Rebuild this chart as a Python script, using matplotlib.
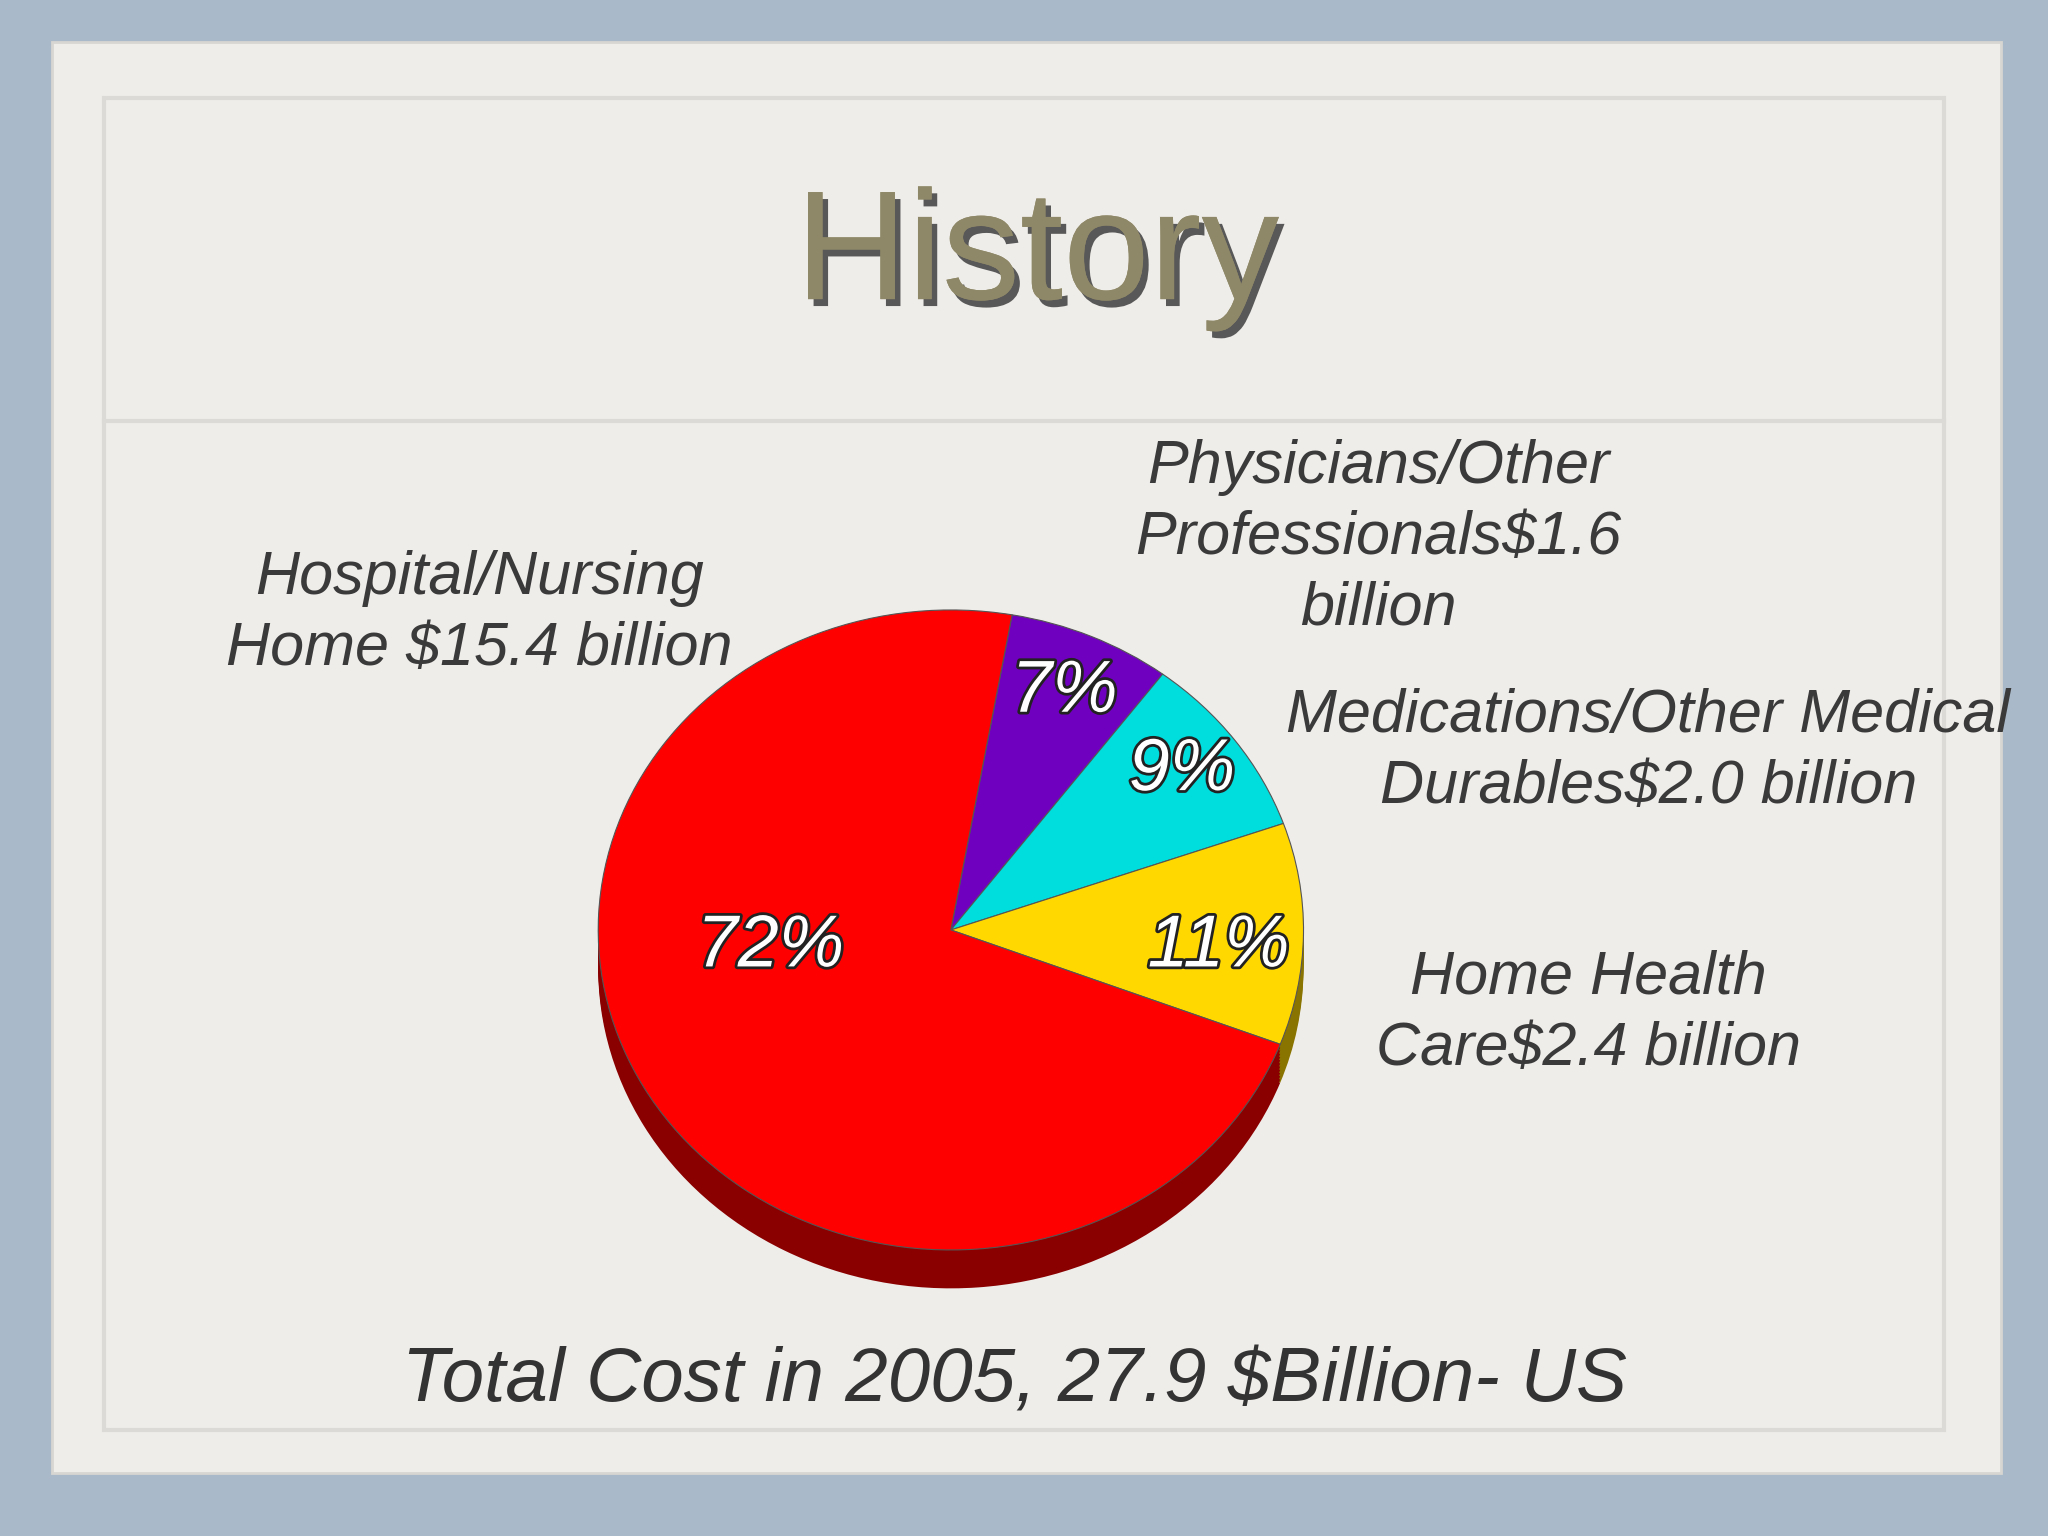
import matplotlib
matplotlib.use("Agg")
import matplotlib.pyplot as plt
import matplotlib.patheffects as pe
from matplotlib.patches import Rectangle

categories = ["Physicians/Other\nProfessionals$1.6\nbillion",
              "Medications/Other Medical\nDurables$2.0 billion",
              "Home Health\nCare$2.4 billion",
              "Hospital/Nursing\nHome $15.4 billion"]
values = [1.6, 2.0, 2.4, 15.4]
pct_labels = ["7%", "9%", "11%", "72%"]
colors = ["#7000C0", "#00DDDD", "#FFD800", "#FF0000"]
dark = ["#3a0066", "#007777", "#8a7400", "#8a0000"]

W, H = 1568, 1176
fig = plt.figure(figsize=(20.48, 15.36), dpi=100)
fig.patch.set_facecolor("#a9b9c9")
fig.add_artist(Rectangle((40/W, 1-1128/H), 1492/W, 1096/H, transform=fig.transFigure,
                         facecolor="#efedea", edgecolor="#d8d6d2", lw=2, zorder=-3))
fig.add_artist(Rectangle((80/W, 1-1095/H), 1408/W, 1020/H, transform=fig.transFigure,
                         facecolor="none", edgecolor="#dcdad6", lw=3, zorder=-2))
fig.add_artist(plt.Line2D([80/W, 1488/W], [1-322/H]*2, transform=fig.transFigure,
                          color="#dcdad6", lw=3, zorder=-2))

cx, cy, rx, ry = 728/W, 1-712/H, 270/W, 245/H
ax = fig.add_axes([cx-rx, cy-ry, 2*rx, 2*ry], zorder=1)
ax.patch.set_visible(False)
for k in range(12, 0, -1):
    ws, _ = ax.pie(values, colors=dark, startangle=80, counterclock=False,
                   center=(0, -0.01*k), radius=1, frame=True)
    for w in ws: w.set_clip_on(False)
ws, _ = ax.pie(values, colors=colors, startangle=80, counterclock=False,
               radius=1, frame=True, wedgeprops=dict(edgecolor="#555555", lw=0.8))
for w in ws: w.set_clip_on(False)
ax.set_xlim(-1, 1); ax.set_ylim(-1, 1); ax.set_aspect("auto"); ax.axis("off")

fx = lambda x: x/W
fy = lambda y: 1-y/H
stroke = [pe.withStroke(linewidth=4, foreground="#222222")]
for (x, y), t in zip([(815, 530), (905, 590), (933, 725), (590, 725)], pct_labels):
    fig.text(fx(x), fy(y), t, ha="center", va="center", fontsize=53, color="white",
             style="italic", family="Liberation Sans", path_effects=stroke, zorder=5)

lab_pos = [(1055, 412), (1262, 576), (1216, 776), (367, 470)]
for (x, y), t in zip(lab_pos, categories):
    fig.text(fx(x), fy(y), t, ha="center", va="center", fontsize=44, color="#3a3a3a",
             style="italic", family="Liberation Sans", linespacing=1.32, zorder=5)

fig.text(fx(794), fy(198), "History", ha="center", va="center", fontsize=112,
         color="#8f8868", family="Liberation Sans", zorder=5,
         path_effects=[pe.withSimplePatchShadow(offset=(4, -5), shadow_rgbFace="#333333", alpha=0.8), pe.Normal()])
fig.text(fx(777), fy(1058), "Total Cost in 2005, 27.9 $Billion- US", ha="center", va="center",
         fontsize=55, color="#333333", style="italic", family="Liberation Sans", zorder=5)

fig.savefig("out.png", dpi=100, facecolor=fig.get_facecolor())
